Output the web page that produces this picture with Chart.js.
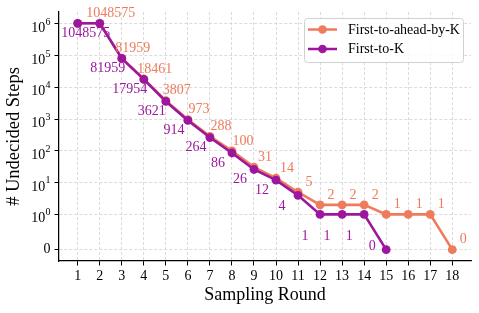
<!DOCTYPE html>
<html>
<head>
<meta charset="utf-8">
<script src="https://cdn.jsdelivr.net/npm/chart.js@4/dist/chart.umd.min.js"></script>
<style>
  html, body { margin: 0; padding: 0; background: #fff; }
  #wrap { width: 479px; height: 313px; }
</style>
</head>
<body>
<div id="wrap"><canvas id="c" width="479" height="313"></canvas></div>
<script>
// ---- data ----
const rounds = [1, 2, 3, 4, 5, 6, 7, 8, 9, 10, 11, 12, 13, 14, 15, 16, 17, 18];
const aheadByK = [1048575, 1048575, 81959, 18461, 3807, 973, 288, 100, 31, 14, 5, 2, 2, 2, 1, 1, 1, 0];
const firstToK = [1048575, 1048575, 81959, 17954, 3621, 914, 264, 86, 26, 12, 4, 1, 1, 1, 0];
const yTickValues = [0, 1, 10, 100, 1000, 10000, 100000, 1000000];
const yTickExponents = [null, '0', '1', '2', '3', '4', '5', '6'];
const seriesNames = ['First-to-ahead-by-K', 'First-to-K'];

const ORANGE = '#ee7b5c';
const PURPLE = '#9c179e';
const FONT = '"Liberation Serif", "Times New Roman", serif';

// symmetric log transform (linthresh = 1, linscale = 1, base 10), as in matplotlib
const LS = 1 / (1 - 1 / 10);
function symlog(v) { return v <= 1 ? v * LS : LS + Math.log10(v); }

const tMax = symlog(Math.max(...aheadByK));
const margin = 0.05 * tMax;

function toPoints(vals) { return vals.map((v, i) => ({ x: rounds[i], y: symlog(v), raw: v })); }

const labelPlugin = {
  id: 'valueLabels',
  afterDatasetsDraw(chart) {
    const ctx = chart.ctx;
    const xs = chart.scales.x, ys = chart.scales.y;
    ctx.save();
    ctx.font = '14px ' + FONT;
    ctx.textAlign = 'center';
    ctx.textBaseline = 'middle';
    // orange labels (above-right)
    ctx.fillStyle = ORANGE;
    aheadByK.forEach((v, i) => {
      if (i === 0) return;
      const px = xs.getPixelForValue(rounds[i]);
      const py = ys.getPixelForValue(symlog(v));
      ctx.fillText(String(v), px + 11, py - 10);
    });
    // purple labels (below-left)
    ctx.fillStyle = PURPLE;
    firstToK.forEach((v, i) => {
      if (i === 0) return;
      const px = xs.getPixelForValue(rounds[i]);
      const py = ys.getPixelForValue(symlog(v));
      let dx = -14, dy = 10;
      if (v === 1) { dx = -15; dy = 22; }
      else if (v === 0) { dx = -14; dy = -3; }
      else if (v < 10) { dx = -16; dy = 11; }
      ctx.fillText(String(v), px + dx, py + dy);
    });
    ctx.restore();
  }
};

const yLabelPlugin = {
  id: 'yLabels',
  afterDraw(chart) {
    const ctx = chart.ctx;
    const ys = chart.scales.y;
    const right = 50.5;
    ctx.save();
    ctx.fillStyle = '#000';
    ctx.textAlign = 'right';
    yTickValues.forEach((v, i) => {
      const py = ys.getPixelForValue(symlog(v));
      if (yTickExponents[i] === null) {
        ctx.font = '14px ' + FONT;
        ctx.textBaseline = 'middle';
        ctx.fillText(String(v), right, py);
      } else {
        ctx.font = '10px ' + FONT;
        ctx.textBaseline = 'alphabetic';
        const sup = yTickExponents[i];
        const w = ctx.measureText(sup).width;
        ctx.fillText(sup, right, py + 0.8);
        ctx.font = '14px ' + FONT;
        ctx.fillText('10', right - w - 0.3, py + 8);
      }
    });
    ctx.restore();
  }
};

const legendPlugin = {
  id: 'customLegend',
  afterDraw(chart) {
    const ctx = chart.ctx;
    const x0 = 304, y0 = 18, w = 159, h = 44, r = 3;
    ctx.save();
    ctx.fillStyle = 'rgba(255,255,255,0.85)';
    ctx.strokeStyle = '#cccccc';
    ctx.lineWidth = 0.9;
    ctx.beginPath();
    ctx.roundRect(x0 + 0.5, y0 + 0.5, w, h, r);
    ctx.fill();
    ctx.stroke();
    const rows = [{ c: ORANGE, y: 29.5, t: seriesNames[0] }, { c: PURPLE, y: 49, t: seriesNames[1] }];
    rows.forEach(row => {
      ctx.strokeStyle = row.c;
      ctx.lineWidth = 2.5;
      ctx.beginPath();
      ctx.moveTo(308, row.y);
      ctx.lineTo(337, row.y);
      ctx.stroke();
      ctx.fillStyle = row.c;
      ctx.beginPath();
      ctx.arc(322.5, row.y, 4.3, 0, Math.PI * 2);
      ctx.fill();
      ctx.fillStyle = '#000';
      ctx.font = '14px ' + FONT;
      ctx.textAlign = 'left';
      ctx.textBaseline = 'middle';
      ctx.fillText(row.t, 348, row.y + 0.5);
    });
    ctx.restore();
  }
};

const gridCommon = {
  color: '#d2d2d2',
  lineWidth: 0.8,
  tickColor: '#000',
  tickWidth: 1,
  tickLength: 4.5,
  tickBorderDash: []
};

new Chart(document.getElementById('c'), {
  type: 'line',
  data: {
    datasets: [
      {
        label: seriesNames[0],
        data: toPoints(aheadByK),
        borderColor: ORANGE,
        backgroundColor: ORANGE,
        borderWidth: 2.6,
        pointRadius: 4.4,
        pointBorderWidth: 0,
        pointBackgroundColor: ORANGE,
        order: 2,
        tension: 0
      },
      {
        label: seriesNames[1],
        data: toPoints(firstToK),
        borderColor: PURPLE,
        backgroundColor: PURPLE,
        borderWidth: 2.6,
        pointRadius: 4.4,
        pointBorderWidth: 0,
        pointBackgroundColor: PURPLE,
        order: 1,
        tension: 0
      }
    ]
  },
  options: {
    responsive: false,
    animation: false,
    devicePixelRatio: 1,
    layout: { padding: { top: 12, right: 8, left: 0, bottom: 0 } },
    plugins: { legend: { display: false }, tooltip: { enabled: false } },
    scales: {
      x: {
        type: 'linear',
        min: 1 - 0.05 * 17,
        max: 18 + 0.05 * 17,
        afterBuildTicks: s => { s.ticks = rounds.map(v => ({ value: v })); },
        afterFit: s => { s.height = 52; },
        ticks: { color: '#000', font: { family: FONT, size: 14 }, padding: 2, maxRotation: 0, autoSkip: false, callback: v => String(v) },
        grid: gridCommon,
        border: { display: true, color: '#000', width: 1.25, dash: [3, 2] },
        title: { display: true, text: 'Sampling Round', color: '#000', font: { family: FONT, size: 18 }, padding: { top: 0, bottom: 7.2 } }
      },
      y: {
        type: 'linear',
        min: -margin,
        max: tMax + margin,
        afterBuildTicks: s => { s.ticks = yTickValues.map(v => ({ value: symlog(v) })); },
        afterFit: s => { s.width = 59; },
        ticks: { display: false },
        grid: gridCommon,
        border: { display: true, color: '#000', width: 1.25, dash: [3, 2] },
        title: { display: true, text: '# Undecided Steps', color: '#000', font: { family: FONT, size: 18.5 }, padding: { top: 3, bottom: 0 } }
      }
    }
  },
  plugins: [labelPlugin, yLabelPlugin, legendPlugin]
});
</script>
</body>
</html>
